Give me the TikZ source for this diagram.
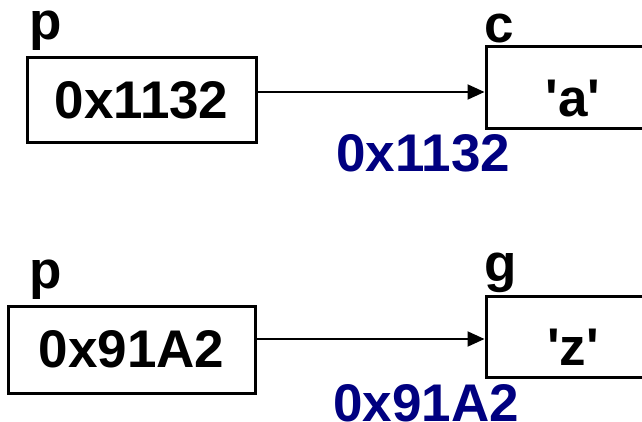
\documentclass[tikz,border=0pt]{standalone}
\usepackage{fontspec}
\setmainfont{Liberation Sans}
\usetikzlibrary{arrows.meta}
\definecolor{addrblue}{RGB}{0,0,128}
\begin{document}
\begin{tikzpicture}[x=1pt,y=-1pt,
  every node/.style={font=\fontsize{53}{53}\selectfont\bfseries, inner sep=0pt},
  cell/.style={draw, line width=3pt, rectangle},
  ptr/.style={line width=2pt, -{Triangle[length=17pt,width=15pt]}},
  addr/.style={text=addrblue, anchor=base west},
  varlabel/.style={anchor=base west}]
\useasboundingbox (0,0) rectangle (642,422);
\clip (0,0) rectangle (642,422);

% first pair: p points at c
\node[cell, minimum width=229pt, minimum height=85pt] (p1) at (141.5,100.5) {0x1132};
\node[cell, minimum width=240pt, minimum height=82pt] (c) at (606,88) {};
\node[anchor=base] (cval) at (573,117) {\textquotesingle a\textquotesingle};
\node[varlabel] (p1name) at (29,40) {p};
\node[varlabel] (cname) at (484,42.5) {c};
\node[addr] (caddr) at (336,172) {0x1132};
\coordinate (a1) at (0,92);
\draw[ptr] (p1.east |- a1) -- (c.west |- a1);

% second pair: p points at g
\node[cell, minimum width=247pt, minimum height=87pt] (p2) at (131.5,349.5) {0x91A2};
\node[cell, minimum width=240pt, minimum height=81pt] (g) at (606,336.5) {};
\node[anchor=base] (gval) at (573,365) {\textquotesingle z\textquotesingle};
\node[varlabel] (p2name) at (29,288) {p};
\node[varlabel] (gname) at (484,281.5) {g};
\node[addr] (gaddr) at (333,421) {0x91A2};
\coordinate (a2) at (0,339);
\draw[ptr] (p2.east |- a2) -- (g.west |- a2);
\end{tikzpicture}
\end{document}
